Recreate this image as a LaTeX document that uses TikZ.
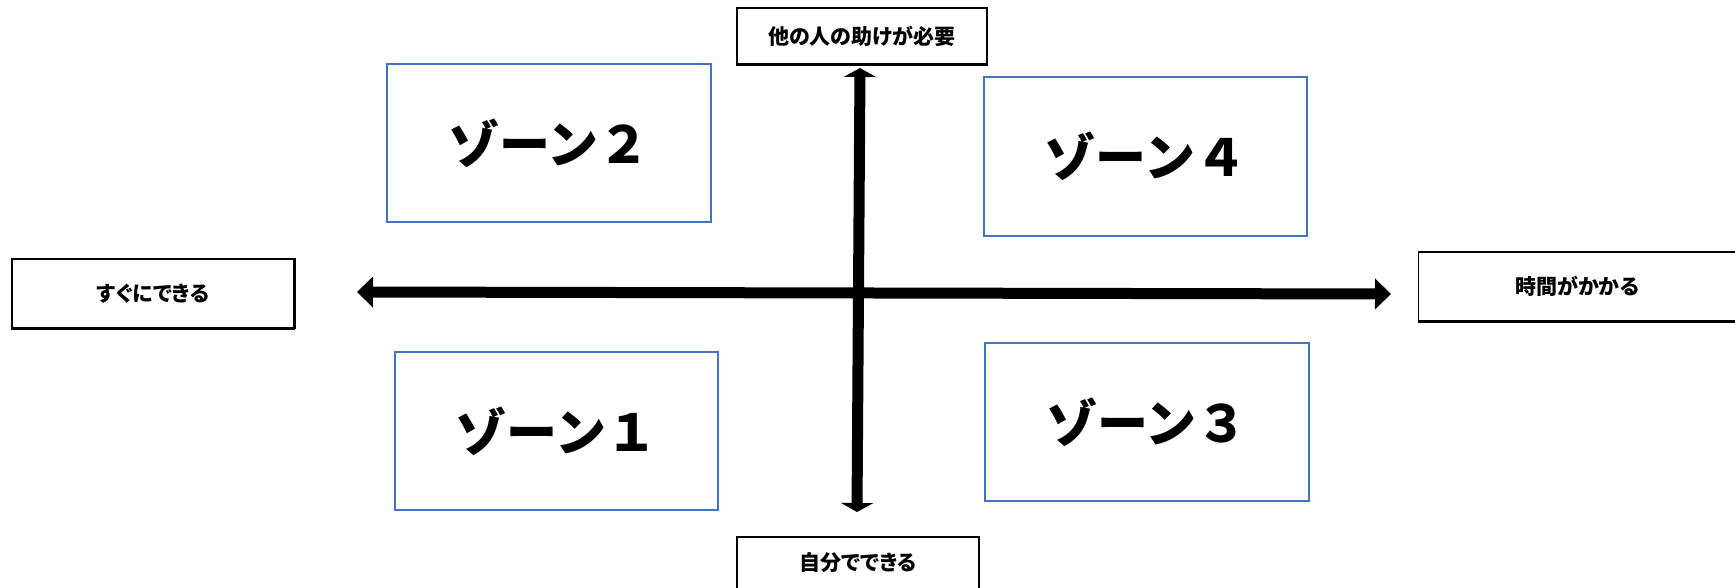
\documentclass[tikz,border=0pt]{standalone}
\usepackage{fontspec}
\setmainfont{Noto Sans CJK JP}
\newfontfamily\jplabel[RawFeature=+palt]{Noto Sans CJK JP}
\usetikzlibrary{arrows.meta}
\definecolor{zoneblue}{HTML}{4472C4}
\tikzset{
  zonebox/.style={draw=zoneblue, line width=2.8pt, inner sep=0pt, font=\fontsize{51}{55}\selectfont\bfseries},
  labelbox/.style={draw=black, line width=1.2pt, inner sep=0pt, font=\jplabel\fontsize{21}{24}\selectfont\bfseries},
  axis/.style={line width=11pt},
  htip/.style={-{Triangle[length=16pt,width=30pt]}},
  vtip/.style={-{Triangle[length=9pt,width=32pt]}},
}
\begin{document}
\begin{tikzpicture}[x=1pt,y=-1pt]
\useasboundingbox (0,0) rectangle (1735,588);
\clip (0,0) rectangle (1735,588);
% zone boxes
\node[zonebox, minimum width=324pt, minimum height=158pt] (z2) at (549,143) {ゾーン２};
\node[zonebox, minimum width=323pt, minimum height=159pt] (z4) at (1145.5,156.5) {ゾーン４};
\node[zonebox, minimum width=323pt, minimum height=158pt] (z1) at (556.5,431) {ゾーン１};
\node[zonebox, minimum width=324pt, minimum height=158pt] (z3) at (1147,422) {ゾーン３};
% label boxes
\node[labelbox, minimum width=282pt, minimum height=69pt] (left) at (153,293.5) {すぐにできる};
\node[labelbox, minimum width=250pt, minimum height=56pt] (top) at (862,36) {他の人の助けが必要};
\node[labelbox, minimum width=242pt, minimum height=52pt] (bottom) at (858,563) {自分でできる};
\node[labelbox, minimum width=317pt, minimum height=69pt] (right) at (1577,286.5) {時間がかかる};
% heavier bottom/right edges
\draw[line width=3pt] (left.south west) -- (left.south east);
\draw[line width=2pt] (left.north east) -- (left.south east);
\draw[line width=3pt] (top.south west) -- (top.south east);
\draw[line width=3pt] (right.south west) -- (right.south east);
% axes
\coordinate (hl) at (357,292);
\coordinate (hr) at (1391,294);
\coordinate (vt) at (860,68);
\coordinate (vb) at (857,512);
\draw[axis, htip] (barycentric cs:hl=1,hr=1) -- (hl);
\draw[axis, htip] (barycentric cs:hl=1,hr=1) -- (hr);
\draw[axis, vtip] (barycentric cs:vt=1,vb=1) -- (vt);
\draw[axis, vtip] (barycentric cs:vt=1,vb=1) -- (vb);
\end{tikzpicture}
\end{document}
